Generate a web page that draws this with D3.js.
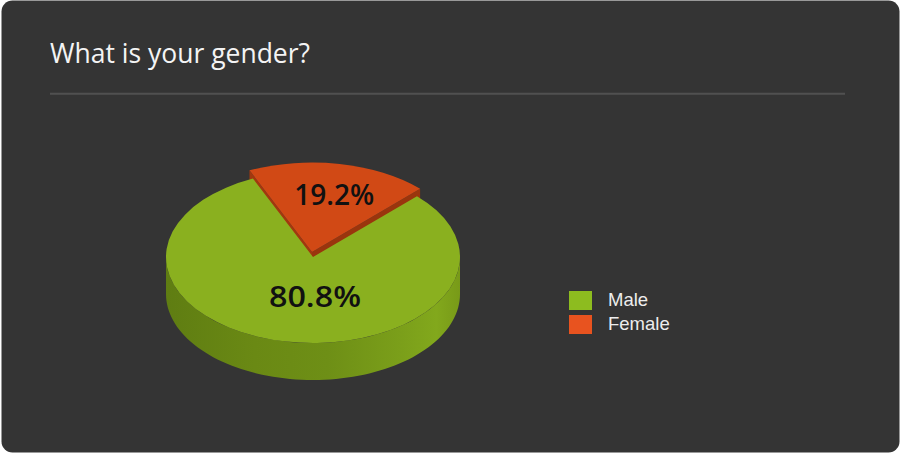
<!DOCTYPE html>
<html>
<head>
<meta charset="utf-8">
<script src="https://cdn.jsdelivr.net/npm/d3@7/dist/d3.min.js"></script>
<style>
  html, body { margin: 0; padding: 0; background: #ffffff; }
  svg { display: block; }
</style>
</head>
<body>
<svg id="chart" width="900" height="455"></svg>
<script>
// ---- data ----
const title = "What is your gender?";
const categories = ["Male", "Female"];
const values = [80.8, 19.2];
const topColors = ["#8ab01f", "#d14915"];
const legendColors = ["#8dbc1f", "#e8531f"];

// ---- layout ----
const svg = d3.select("#chart");

// card
svg.append("rect")
  .attr("x", 1.5).attr("y", 0.5)
  .attr("width", 898).attr("height", 452)
  .attr("rx", 11).attr("ry", 11)
  .attr("fill", "#343434");

// title
svg.append("text")
  .attr("x", 50).attr("y", 63)
  .attr("font-family", "'Open Sans', 'Noto Sans', sans-serif")
  .attr("font-size", 28)
  .attr("fill", "#f4f4f4")
  .attr("textLength", 260).attr("lengthAdjust", "spacingAndGlyphs")
  .text(title);

// divider
svg.append("line")
  .attr("x1", 50).attr("x2", 845)
  .attr("y1", 93.7).attr("y2", 93.7)
  .attr("stroke", "#505050").attr("stroke-width", 2);

// ---- 3D pie ----
const cx = 313, cy = 257, rx = 147, tilt = 0.585, depth = 37;
const START = 45 * Math.PI / 180;

const pie = d3.pie().sort(null).value(d => d.v)
  .startAngle(START).endAngle(START + 2 * Math.PI);
const arcsData = pie(categories.map((c, i) => ({ c, v: values[i], i })));

const defs = svg.append("defs");
const g1 = defs.append("linearGradient").attr("id", "sideG")
  .attr("x1", "0%").attr("x2", "100%").attr("y1", "0%").attr("y2", "0%");
[["0%", "#5f7d12"], ["30%", "#6a8914"], ["55%", "#6e8f16"], ["80%", "#7b9f1a"], ["92%", "#82a81c"], ["100%", "#789a18"]]
  .forEach(([o, c]) => g1.append("stop").attr("offset", o).attr("stop-color", c));

function pt(a, ox, oy, r, dy) {
  return [ox + r * Math.sin(a), oy - r * tilt * Math.cos(a) + (dy || 0)];
}
function outerSide(a0, a1, ox, oy, r, d) {
  const lo = Math.max(a0, Math.PI / 2), hi = Math.min(a1, 3 * Math.PI / 2);
  if (hi <= lo) return null;
  const n = 80;
  const topPts = d3.range(n + 1).map(k => pt(lo + (hi - lo) * k / n, ox, oy, r, 0));
  const botPts = d3.range(n + 1).map(k => pt(hi - (hi - lo) * k / n, ox, oy, r, d));
  return "M" + topPts.concat(botPts).map(p => p.join(",")).join("L") + "Z";
}
function radialWall(a, ox, oy, r, d) {
  const e = pt(a, ox, oy, r, 0);
  return `M${ox},${oy}L${e[0]},${e[1]}L${e[0]},${e[1] + d}L${ox},${oy + d}Z`;
}

const pieG = svg.append("g");

// Female (back, raised slightly & larger)
const fem = arcsData[1];
const fcx = cx - 1, fcy = cy - 5, fr = rx * 1.04;
pieG.append("path").attr("d", radialWall(fem.startAngle, fcx, fcy, fr, 16)).attr("fill", "#a2380e");
pieG.append("path").attr("d", radialWall(fem.endAngle, fcx, fcy, fr, 16)).attr("fill", "#9a350d");
pieG.append("path")
  .attr("d", d3.arc().innerRadius(0).outerRadius(fr)(fem))
  .attr("transform", `translate(${fcx},${fcy}) scale(1,${tilt})`)
  .attr("fill", topColors[1]);

// Male (front)
const male = arcsData[0];
const sideD = outerSide(male.startAngle, male.endAngle, cx, cy, rx, depth);
if (sideD) pieG.append("path").attr("d", sideD).attr("fill", "url(#sideG)");
pieG.append("path")
  .attr("d", d3.arc().innerRadius(0).outerRadius(rx)(male))
  .attr("transform", `translate(${cx},${cy}) scale(1,${tilt})`)
  .attr("fill", topColors[0]);

// labels
const labelFont = "'Open Sans', 'Noto Sans', sans-serif";
const fm = (fem.startAngle + fem.endAngle) / 2;
const fp = pt(fm, fcx, fcy, fr * 0.66, 0);
pieG.append("text")
  .attr("x", fp[0] + 4).attr("y", fp[1] + 11)
  .attr("text-anchor", "middle")
  .attr("font-family", labelFont).attr("font-weight", 600)
  .attr("font-size", 29).attr("fill", "#111")
  .attr("textLength", 80).attr("lengthAdjust", "spacingAndGlyphs")
  .text(values[1].toFixed(1) + "%");
const mp = pt(Math.PI, cx, cy, rx * 0.47, 0);
pieG.append("text")
  .attr("x", mp[0] + 2).attr("y", mp[1] + 10)
  .attr("text-anchor", "middle")
  .attr("font-family", labelFont).attr("font-weight", 600)
  .attr("font-size", 29).attr("fill", "#111")
  .attr("textLength", 92).attr("lengthAdjust", "spacingAndGlyphs")
  .text(values[0].toFixed(1) + "%");

// legend
const leg = svg.append("g");
categories.forEach((c, i) => {
  const y = 291 + i * 24;
  leg.append("rect").attr("x", 569).attr("y", y).attr("width", 23).attr("height", 19)
    .attr("fill", legendColors[i]);
  leg.append("text").attr("x", 608).attr("y", y + 14.5)
    .attr("font-family", "'Liberation Sans', Arial, sans-serif")
    .attr("font-size", 18.5).attr("fill", "#ededed")
    .text(c);
});
</script>
</body>
</html>
